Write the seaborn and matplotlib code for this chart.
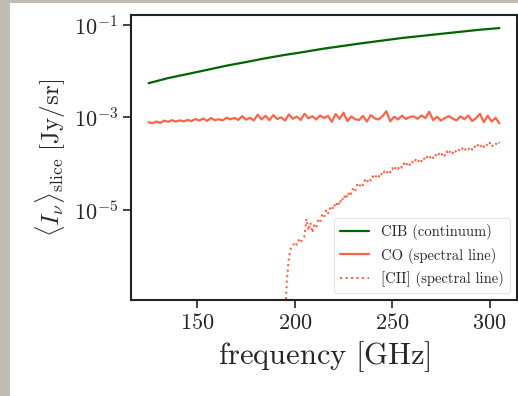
import numpy as np
import pandas as pd
import seaborn as sns
import matplotlib
matplotlib.use("Agg")
from matplotlib import pyplot as plt
from matplotlib.patches import Rectangle

# continuum (CIB), read every 10 GHz
cib_freq = [125, 135, 145, 155, 165, 175, 185, 195, 205, 215,
            225, 235, 245, 255, 265, 275, 285, 295, 305]
cib_vals = [5.5e-3, 7.1e-3, 8.7e-3, 1.07e-2, 1.32e-2, 1.58e-2, 1.91e-2, 2.26e-2, 2.63e-2, 3.09e-2,
            3.55e-2, 4.07e-2, 4.62e-2, 5.25e-2, 5.82e-2, 6.46e-2, 7.16e-2, 7.94e-2, 8.61e-2]

# CO spectral line, every 2 GHz from 125 to 305, in units of 1e-4 Jy/sr
co_freq = list(range(125, 306, 2))
co_vals_e4 = [7.8, 7.5, 8.1, 7.6, 8.5, 8.0, 8.7, 8.1, 8.6, 8.2, 8.8,
              8.3, 9.2, 8.5, 9.4, 8.4, 9.7, 8.7, 9.1, 8.6, 9.8,
              9.1, 9.7, 8.8, 10.6, 8.9, 9.8, 8.6, 11.4, 9.0, 10.8,
              8.7, 11.2, 9.2, 10.0, 8.5, 11.6, 9.3, 10.4, 8.8, 12.0,
              9.5, 10.6, 9.0, 11.0, 9.7, 10.8, 8.0, 11.8, 9.3, 12.6,
              8.3, 10.5, 9.1, 8.8, 10.8, 8.1, 11.2, 9.5, 9.0, 10.6,
              13.6, 8.2, 10.3, 9.0, 10.9, 9.2, 10.2, 10.5, 9.3, 11.0,
              9.6, 13.2, 8.7, 10.3, 8.5, 9.6, 10.7, 9.4, 8.6, 10.5,
              9.1, 11.0, 8.3, 9.6, 12.0, 7.9, 10.9, 8.1, 9.8, 7.4]

# [CII] spectral line, every 1 GHz from 195 to 305, read as log10(Jy/sr)
cii_freq = list(range(195, 306))
cii_log10 = [-7.30, -6.50, -6.05, -5.82, -5.78, -5.70, -5.76, -5.66, -5.72, -5.62,
             -5.58, -5.20, -5.45, -5.28, -5.50, -5.34, -5.40, -5.22, -5.27, -5.12,
             -5.18, -5.02, -5.10, -4.97, -5.02, -4.88, -4.95, -4.82, -4.90, -4.74,
             -4.80, -4.66, -4.74, -4.60, -4.66, -4.52, -4.58, -4.46, -4.52, -4.42,
             -4.47, -4.36, -4.42, -4.32, -4.37, -4.28, -4.33, -4.25, -4.30, -4.20,
             -4.26, -4.17, -4.22, -4.14, -4.19, -4.10, -4.16, -4.07, -4.12, -4.04,
             -4.09, -4.00, -4.06, -3.97, -4.03, -3.95, -4.00, -3.92, -3.98, -3.90,
             -3.95, -3.87, -3.93, -3.85, -3.90, -3.82, -3.88, -3.80, -3.86, -3.79,
             -3.84, -3.76, -3.83, -3.74, -3.80, -3.72, -3.78, -3.70, -3.76, -3.70,
             -3.74, -3.67, -3.73, -3.66, -3.70, -3.64, -3.70, -3.62, -3.67, -3.60,
             -3.66, -3.58, -3.64, -3.57, -3.62, -3.55, -3.64, -3.58, -3.60, -3.52,
             -3.56]

sns.set_theme(style="ticks")
plt.rcParams["font.family"] = "serif"
plt.rcParams["font.serif"] = ["cmr10", "DejaVu Serif"]
plt.rcParams["mathtext.fontset"] = "cm"
plt.rcParams["axes.formatter.use_mathtext"] = True

fig = plt.figure(figsize=(5.18, 3.96), dpi=100)
fig.patch.set_facecolor("#c2bbb3")
# white card the chart sits on
fig.patches.append(Rectangle((10 / 518, 0), 1, 1 - 3 / 396, transform=fig.transFigure,
                             facecolor="white", edgecolor="none", zorder=-5))
ax = fig.add_axes([0.253, 0.2424, 0.745, 0.7196])
ax.set_zorder(1)

sns.lineplot(x=cib_freq, y=cib_vals, ax=ax, color="darkgreen", lw=1.6, label="CIB (continuum)")
sns.lineplot(x=co_freq, y=np.array(co_vals_e4) * 1e-4, ax=ax, color="tomato", lw=1.6,
             label="CO (spectral line)")
sns.lineplot(x=cii_freq, y=np.power(10.0, cii_log10), ax=ax, color="tomato", lw=1.5, ls=":",
             label="[CII] (spectral line)")

ax.set_yscale("log")
ax.set_ylim(1.1e-7, 0.165)
ax.set_xlim(116, 314)
ax.set_yticks([1e-5, 1e-3, 1e-1])
ax.minorticks_off()
ax.set_xticks([150, 200, 250, 300])
ax.tick_params(labelsize=16, length=6, width=1.2, color="#222222")
for s in ax.spines.values():
    s.set_linewidth(1.5)
    s.set_color("#222222")

ax.set_xlabel(r"$\mathrm{frequency\ [GHz]}$", fontsize=22)
ax.set_ylabel(r"$\langle I_\nu \rangle_\mathrm{slice}\ [\mathrm{Jy/sr}]$", fontsize=18)

leg = ax.legend(loc="lower right", fontsize=10.5, frameon=True, fancybox=True,
                edgecolor="#dddddd", handlelength=2.0)
leg.get_frame().set_linewidth(0.8)

fig.savefig("out.png", dpi=100, facecolor=fig.get_facecolor())
